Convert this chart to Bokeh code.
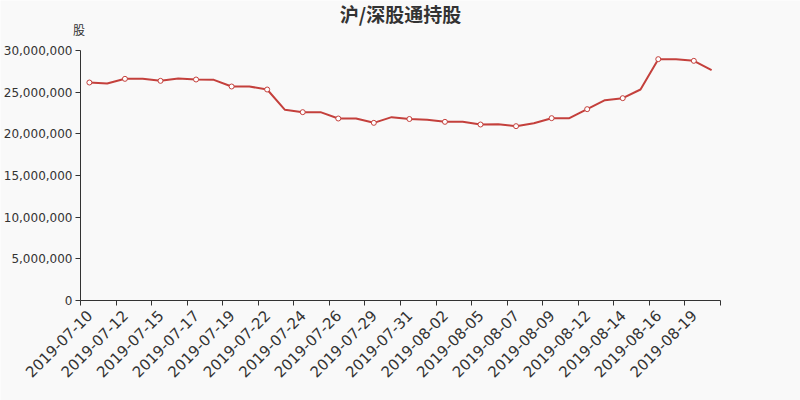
import math
from bokeh.plotting import figure
from bokeh.models import Range1d, FixedTicker, NumeralTickFormatter, Label
from bokeh.embed import file_html
from bokeh.resources import INLINE

# ---- data ----
dates = [
    "2019-07-10", "2019-07-11", "2019-07-12", "2019-07-14", "2019-07-15", "2019-07-16",
    "2019-07-17", "2019-07-18", "2019-07-19", "2019-07-21", "2019-07-22", "2019-07-23",
    "2019-07-24", "2019-07-25", "2019-07-26", "2019-07-28", "2019-07-29", "2019-07-30",
    "2019-07-31", "2019-08-01", "2019-08-02", "2019-08-04", "2019-08-05", "2019-08-06",
    "2019-08-07", "2019-08-08", "2019-08-09", "2019-08-11", "2019-08-12", "2019-08-13",
    "2019-08-14", "2019-08-15", "2019-08-16", "2019-08-18", "2019-08-19", "2019-08-20",
]
holdings = [
    26160000, 26040000, 26600000, 26600000, 26360000, 26640000,
    26520000, 26480000, 25680000, 25680000, 25320000, 22880000,
    22600000, 22600000, 21840000, 21840000, 21320000, 22000000,
    21780000, 21680000, 21440000, 21440000, 21120000, 21160000,
    20920000, 21280000, 21880000, 21880000, 22960000, 24040000,
    24280000, 25320000, 28960000, 28940000, 28760000, 27640000,
]
y_ticks = [0, 5000000, 10000000, 15000000, 20000000, 25000000, 30000000]
title_text = "沪/深股通持股"
y_unit = "股"

# ---- styles / layout ----
bg = "#f9f9f9"
line_color = "#c4403c"
text_color = "#333333"
W, H = 800, 400
grid_left, grid_right, grid_top, grid_bottom = 80, 720, 50, 300

n = len(dates)
xs = list(range(n))
label_idx = xs[::2]
boundary_ticks = [i - 0.5 for i in range(0, n + 1, 2)]

# The frame covers the whole canvas; both axes are placed at fixed data
# locations and bounded to the data area, so titles can be in-frame labels.
cat_px = (grid_right - grid_left) / n
x_start = -0.5 - grid_left / cat_px
x_end = n - 0.5 + (W - grid_right) / cat_px
val_per_px = (y_ticks[-1] - y_ticks[0]) / (grid_bottom - grid_top)
y_start = y_ticks[0] - (H - grid_bottom) * val_per_px
y_end = y_ticks[0] + grid_bottom * val_per_px

p = figure(
    width=W, height=H,
    output_backend="svg", toolbar_location=None,
    x_range=Range1d(x_start, x_end),
    y_range=Range1d(y_start, y_end),
    min_border=0,
    background_fill_color=bg, border_fill_color=bg,
    outline_line_color=None,
)

p.grid.visible = False

# x axis
xa = p.xaxis[0]
xa.fixed_location = y_ticks[0]
xa.bounds = (-0.5, n - 0.5)
xa.ticker = FixedTicker(ticks=label_idx, minor_ticks=boundary_ticks)
xa.major_label_overrides = {i: dates[i] for i in label_idx}
xa.major_tick_out = 0
xa.major_tick_in = 0
xa.minor_tick_out = 5
xa.minor_tick_in = 0
xa.minor_tick_line_color = text_color
xa.axis_line_color = text_color
xa.major_label_orientation = math.pi / 4
xa.major_label_text_font = "DejaVu Sans"
xa.major_label_text_font_size = "15px"
xa.major_label_text_color = text_color
xa.major_label_standoff = 7

# y axis
ya = p.yaxis[0]
ya.fixed_location = -0.5
ya.bounds = (y_ticks[0], y_ticks[-1])
ya.ticker = FixedTicker(ticks=y_ticks)
ya.formatter = NumeralTickFormatter(format="0,0")
ya.major_tick_out = 5
ya.major_tick_in = 0
ya.minor_tick_out = 0
ya.minor_tick_in = 0
ya.axis_line_color = text_color
ya.major_tick_line_color = text_color
ya.major_label_text_font = "DejaVu Sans"
ya.major_label_text_font_size = "12px"
ya.major_label_text_color = text_color
ya.major_label_standoff = 3

# title and unit label
p.add_layout(Label(
    x=(n - 1) / 2, y=y_ticks[-1], text=title_text, y_offset=37,
    text_align="center", text_baseline="middle",
    text_font_size="19px", text_font_style="bold", text_color=text_color,
    text_font="Noto Sans CJK SC",
))
p.add_layout(Label(
    x=-0.5, y=y_ticks[-1], text=y_unit, x_offset=-1.5, y_offset=21,
    text_align="center", text_baseline="middle",
    text_font_size="12px", text_color=text_color,
    text_font="Noto Sans CJK SC",
))

p.line(xs, holdings, line_color=line_color, line_width=2)
p.scatter([xs[i] for i in label_idx], [holdings[i] for i in label_idx],
          size=5, marker="circle", fill_color="white",
          line_color=line_color, line_width=1)

open("out.html", "w").write(file_html(p, INLINE))
